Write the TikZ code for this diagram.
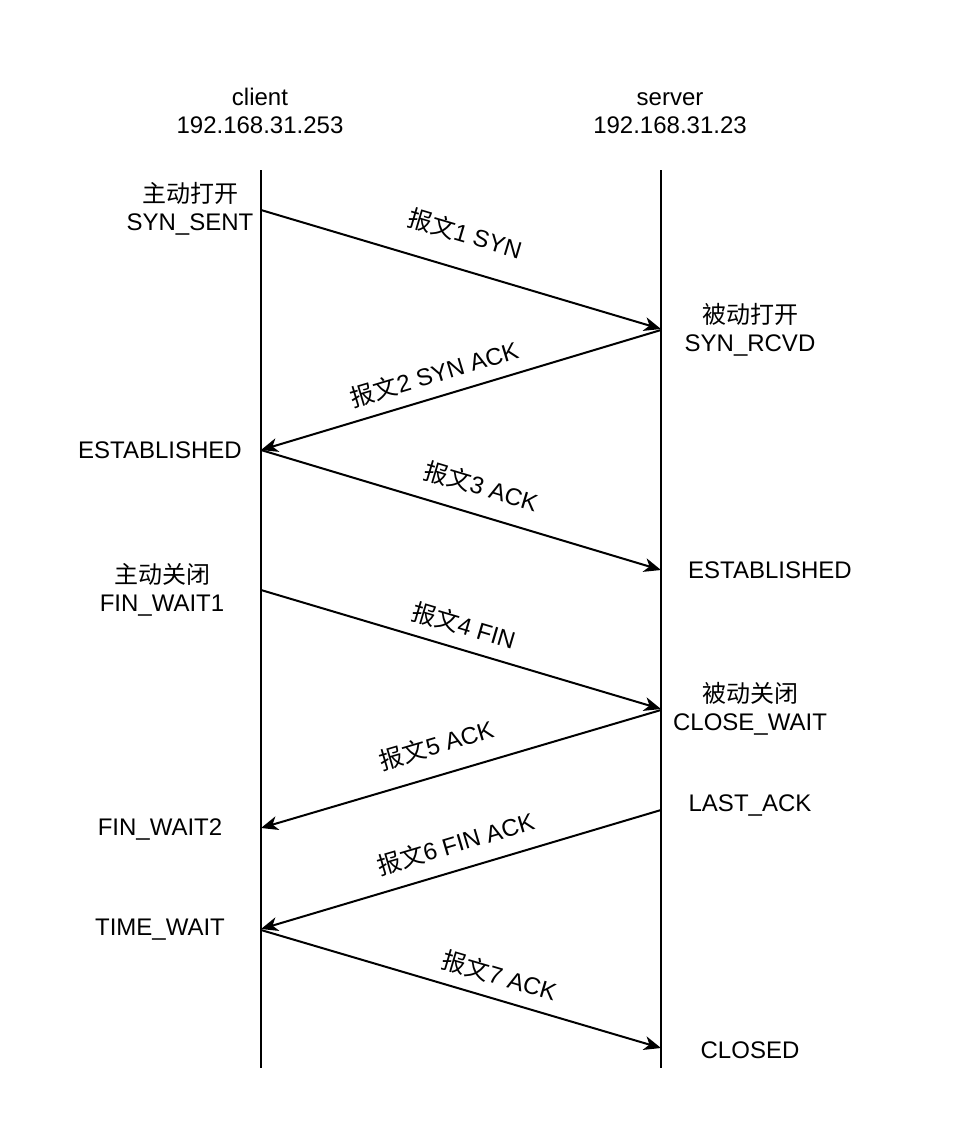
\documentclass[tikz,border=0pt]{standalone}
\usepackage{fontspec}
\setmainfont{Liberation Sans}
\newfontfamily\cjk{Noto Sans CJK SC}
\usetikzlibrary{arrows.meta}
\tikzset{
  lifeline/.style={line width=2pt},
  msg/.style={line width=2pt,-{Stealth[length=17pt,width=14pt,inset=5pt]}},
  msglabel/.style={sloped,inner sep=0pt,text height=20pt,text depth=4pt},
  state/.style={align=center,inner sep=0pt}
}
\begin{document}
\begin{tikzpicture}[x=1pt,y=-1pt,font=\fontsize{24}{28}\selectfont]
\path[use as bounding box,fill=white] (0,0) rectangle (978,1136);
% lifelines
\coordinate (ct) at (261,170);
\coordinate (cb) at (261,1068);
\coordinate (st) at (661,170);
\coordinate (sb) at (661,1068);
\draw[lifeline] (ct) -- (cb);
\draw[lifeline] (st) -- (sb);
% headers
\node[state] (client) at (260,110) {\strut client\\192.168.31.253};
\node[state] (server) at (670,110) {\strut server\\192.168.31.23};
% message points
\coordinate (c1) at (261,210);
\coordinate (s1) at (661,329);
\coordinate (s2) at (661,330);
\coordinate (c2) at (261,450);
\coordinate (c3) at (261,450);
\coordinate (s3) at (661,570);
\coordinate (c4) at (261,590);
\coordinate (s4) at (661,709);
\coordinate (s5) at (661,710);
\coordinate (c5) at (261,828);
\coordinate (s6) at (661,810);
\coordinate (c6) at (261,929);
\coordinate (c7) at (261,930);
\coordinate (s7) at (661,1048);
% messages
\draw[msg] (c1) -- node[msglabel,pos=0.485,above=21.5pt] (m1) {{\cjk 报文}1 SYN} (s1);
\draw[msg] (s2) -- node[msglabel,pos=0.55,above=9pt] (m2) {{\cjk 报文}2 SYN ACK} (c2);
\draw[msg] (c3) -- node[msglabel,pos=0.53,above=14.5pt] (m3) {{\cjk 报文}3 ACK} (s3);
\draw[msg] (c4) -- node[msglabel,pos=0.49,above=9.6pt] (m4) {{\cjk 报文}4 FIN} (s4);
\draw[msg] (s5) -- node[msglabel,pos=0.54,above=16pt] (m5) {{\cjk 报文}5 ACK} (c5);
\draw[msg] (s6) -- node[msglabel,pos=0.495,above=12.4pt] (m6) {{\cjk 报文}6 FIN ACK} (c6);
\draw[msg] (c7) -- node[msglabel,pos=0.58,above=9.5pt] (m7) {{\cjk 报文}7 ACK} (s7);
% states
\node[state] (syns) at (190,209) {{\cjk 主动打开}\\SYN\_SENT};
\node[state] (synr) at (750,330) {{\cjk 被动打开}\\SYN\_RCVD};
\node[state] (estc) at (160,450) {ESTABLISHED};
\node[state] (ests) at (770,570) {ESTABLISHED};
\node[state] (fw1) at (162,590) {{\cjk 主动关闭}\\FIN\_WAIT1};
\node[state] (clw) at (750,709) {{\cjk 被动关闭}\\CLOSE\_WAIT};
\node[state] (lack) at (750,805) {LAST\_ACK};
\node[state] (fw2) at (160,829) {FIN\_WAIT2};
\node[state] (tw) at (160,930) {TIME\_WAIT};
\node[state] (cls) at (750,1050) {CLOSED};
\end{tikzpicture}
\end{document}
